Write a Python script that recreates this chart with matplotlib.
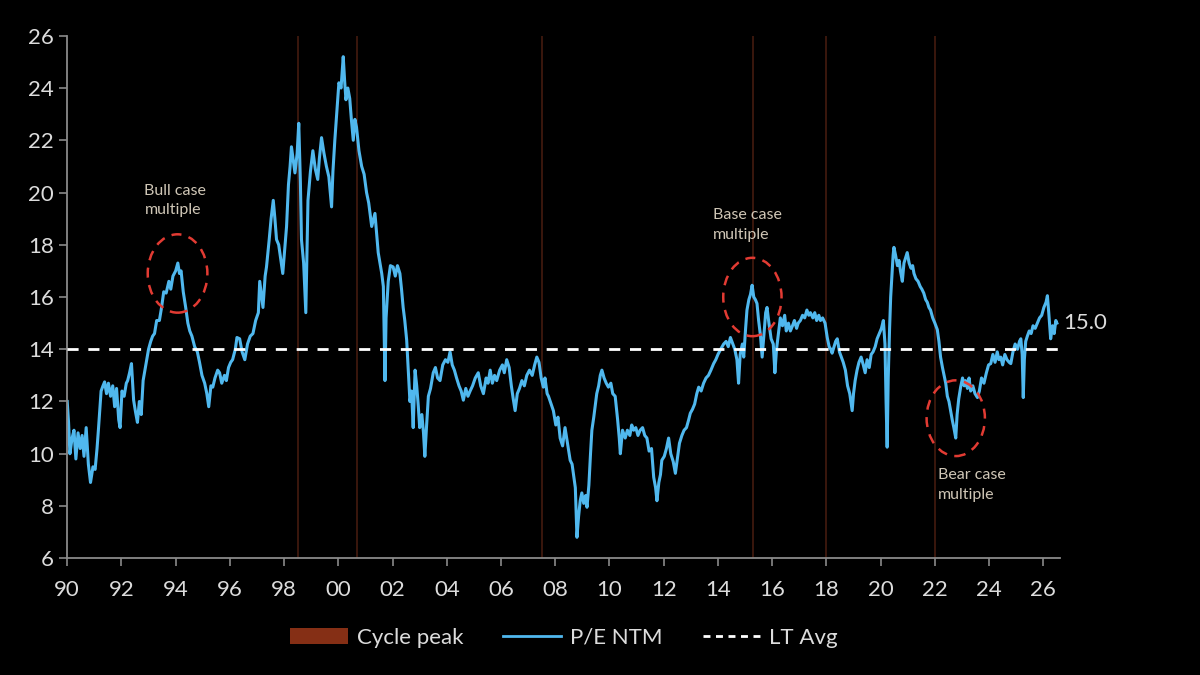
import matplotlib
matplotlib.use("Agg")
import matplotlib.pyplot as plt
from matplotlib.patches import Ellipse, Patch
from matplotlib.lines import Line2D

plt.rcParams['font.family'] = ['Lato', 'DejaVu Sans']

# P/E NTM (decimal year, multiple)
years = [
    1990.00, 1990.05, 1990.10, 1990.18, 1990.25, 1990.32, 1990.40, 1990.48, 1990.55, 1990.62,
    1990.70, 1990.78, 1990.86, 1990.95, 1991.03, 1991.10, 1991.15, 1991.25, 1991.32, 1991.38,
    1991.45, 1991.52, 1991.60, 1991.68, 1991.75, 1991.82, 1991.90, 1991.95, 1992.02, 1992.10,
    1992.18, 1992.23, 1992.30, 1992.37, 1992.45, 1992.52, 1992.59, 1992.66, 1992.73, 1992.80,
    1992.90, 1993.00, 1993.08, 1993.15, 1993.22, 1993.30, 1993.40, 1993.48, 1993.56, 1993.65,
    1993.75, 1993.82, 1993.90, 1994.00, 1994.08, 1994.14, 1994.20, 1994.28, 1994.37, 1994.45,
    1994.52, 1994.60, 1994.70, 1994.80, 1994.88, 1994.97, 1995.07, 1995.15, 1995.22, 1995.30,
    1995.37, 1995.45, 1995.55, 1995.62, 1995.70, 1995.80, 1995.87, 1995.95, 1996.03, 1996.10,
    1996.20, 1996.26, 1996.36, 1996.45, 1996.55, 1996.65, 1996.75, 1996.85, 1996.95, 1997.05,
    1997.10, 1997.17, 1997.22, 1997.30, 1997.35, 1997.45, 1997.52, 1997.60, 1997.66, 1997.72,
    1997.80, 1997.88, 1997.95, 1998.02, 1998.09, 1998.16, 1998.22, 1998.27, 1998.34, 1998.40,
    1998.48, 1998.54, 1998.60, 1998.64, 1998.72, 1998.80, 1998.84, 1998.88, 1998.97, 1999.06,
    1999.15, 1999.24, 1999.30, 1999.38, 1999.47, 1999.56, 1999.65, 1999.75, 1999.80, 1999.87,
    1999.95, 2000.02, 2000.10, 2000.18, 2000.23, 2000.28, 2000.35, 2000.42, 2000.48, 2000.55,
    2000.61, 2000.67, 2000.76, 2000.86, 2000.95, 2001.04, 2001.12, 2001.23, 2001.30, 2001.35,
    2001.42, 2001.47, 2001.55, 2001.60, 2001.66, 2001.72, 2001.76, 2001.84, 2001.92, 2002.02,
    2002.10, 2002.18, 2002.27, 2002.33, 2002.39, 2002.45, 2002.52, 2002.58, 2002.64, 2002.70,
    2002.76, 2002.83, 2002.89, 2002.95, 2003.00, 2003.08, 2003.14, 2003.19, 2003.25, 2003.32,
    2003.40, 2003.50, 2003.58, 2003.66, 2003.75, 2003.85, 2003.95, 2004.04, 2004.12, 2004.20,
    2004.28, 2004.36, 2004.45, 2004.53, 2004.61, 2004.70, 2004.78, 2004.86, 2004.95, 2005.05,
    2005.16, 2005.25, 2005.35, 2005.45, 2005.52, 2005.60, 2005.68, 2005.76, 2005.84, 2005.95,
    2006.05, 2006.12, 2006.21, 2006.30, 2006.38, 2006.45, 2006.52, 2006.60, 2006.68, 2006.77,
    2006.86, 2006.95, 2007.05, 2007.15, 2007.24, 2007.32, 2007.40, 2007.48, 2007.56, 2007.62,
    2007.70, 2007.75, 2007.85, 2007.93, 2008.02, 2008.10, 2008.18, 2008.27, 2008.36, 2008.45,
    2008.55, 2008.62, 2008.70, 2008.74, 2008.80, 2008.86, 2008.92, 2008.98, 2009.05, 2009.12,
    2009.17, 2009.24, 2009.30, 2009.35, 2009.42, 2009.53, 2009.60, 2009.66, 2009.72, 2009.80,
    2009.88, 2009.96, 2010.05, 2010.12, 2010.21, 2010.30, 2010.36, 2010.40, 2010.48, 2010.58,
    2010.66, 2010.75, 2010.82, 2010.89, 2010.97, 2011.05, 2011.13, 2011.22, 2011.30, 2011.38,
    2011.46, 2011.55, 2011.63, 2011.70, 2011.75, 2011.82, 2011.88, 2011.93, 2012.02, 2012.10,
    2012.18, 2012.26, 2012.35, 2012.43, 2012.50, 2012.58, 2012.67, 2012.75, 2012.84, 2012.92,
    2012.98, 2013.06, 2013.14, 2013.22, 2013.29, 2013.38, 2013.47, 2013.56, 2013.65, 2013.74,
    2013.84, 2013.92, 2014.00, 2014.10, 2014.21, 2014.30, 2014.38, 2014.46, 2014.55, 2014.62,
    2014.70, 2014.76, 2014.82, 2014.90, 2014.95, 2015.02, 2015.07, 2015.14, 2015.20, 2015.26,
    2015.32, 2015.38, 2015.44, 2015.50, 2015.57, 2015.63, 2015.70, 2015.76, 2015.81, 2015.88,
    2015.96, 2016.04, 2016.10, 2016.16, 2016.23, 2016.30, 2016.38, 2016.46, 2016.52, 2016.60,
    2016.67, 2016.75, 2016.82, 2016.90, 2016.96, 2017.04, 2017.12, 2017.20, 2017.28, 2017.35,
    2017.41, 2017.50, 2017.57, 2017.64, 2017.72, 2017.78, 2017.86, 2017.95, 2018.03, 2018.10,
    2018.16, 2018.21, 2018.28, 2018.34, 2018.40, 2018.48, 2018.55, 2018.62, 2018.70, 2018.78,
    2018.86, 2018.95, 2019.00, 2019.06, 2019.13, 2019.20, 2019.28, 2019.36, 2019.43, 2019.50,
    2019.58, 2019.65, 2019.72, 2019.80, 2019.87, 2019.95, 2020.03, 2020.10, 2020.16, 2020.20,
    2020.24, 2020.28, 2020.33, 2020.37, 2020.42, 2020.46, 2020.49, 2020.55, 2020.62, 2020.68,
    2020.73, 2020.80, 2020.86, 2020.92, 2020.98, 2021.05, 2021.12, 2021.18, 2021.23, 2021.30,
    2021.38, 2021.46, 2021.52, 2021.59, 2021.66, 2021.72, 2021.78, 2021.84, 2021.92, 2022.00,
    2022.09, 2022.15, 2022.21, 2022.28, 2022.34, 2022.40, 2022.46, 2022.52, 2022.58, 2022.64,
    2022.70, 2022.77, 2022.82, 2022.88, 2022.95, 2023.02, 2023.08, 2023.13, 2023.20, 2023.26,
    2023.32, 2023.40, 2023.48, 2023.57, 2023.64, 2023.72, 2023.81, 2023.90, 2023.98, 2024.06,
    2024.14, 2024.22, 2024.30, 2024.36, 2024.43, 2024.50, 2024.58, 2024.66, 2024.74, 2024.80,
    2024.88, 2024.96, 2025.05, 2025.12, 2025.17, 2025.22, 2025.26, 2025.30, 2025.35, 2025.41,
    2025.48, 2025.55, 2025.62, 2025.70, 2025.78, 2025.86, 2025.94, 2026.02, 2026.10, 2026.15,
    2026.20, 2026.27, 2026.34, 2026.40, 2026.46, 2026.50,
]
pe_ntm = [
    12.0, 11.2, 10.0, 10.6, 10.9, 9.8, 10.8, 10.2, 10.7, 9.9,
    11.0, 9.6, 8.9, 9.5, 9.4, 10.2, 10.9, 12.4, 12.6, 12.75,
    12.3, 12.7, 12.2, 12.6, 11.8, 12.5, 11.3, 11.0, 12.4, 12.2,
    12.7, 12.8, 13.1, 13.45, 12.05, 11.6, 11.2, 12.0, 11.5, 12.8,
    13.4, 14.0, 14.3, 14.5, 14.6, 15.1, 15.1, 15.6, 16.2, 16.15,
    16.6, 16.3, 16.8, 17.0, 17.3, 16.9, 17.0, 16.2, 15.6, 15.0,
    14.7, 14.5, 14.1, 13.9, 13.5, 13.0, 12.7, 12.3, 11.8, 12.6,
    12.55, 12.9, 13.2, 13.1, 12.7, 13.0, 12.8, 13.3, 13.5, 13.6,
    14.0, 14.45, 14.4, 13.9, 13.6, 14.2, 14.5, 14.6, 15.1, 15.4,
    16.6, 16.0, 15.6, 16.8, 17.15, 18.2, 19.0, 19.7, 19.0, 18.2,
    18.0, 17.4, 16.9, 17.8, 18.7, 20.3, 21.0, 21.75, 21.2, 20.75,
    21.5, 22.65, 20.4, 18.2, 17.3, 15.4, 17.5, 19.7, 20.8, 21.6,
    20.9, 20.5, 21.3, 22.1, 21.5, 21.0, 20.6, 19.45, 20.8, 22.0,
    23.2, 24.2, 24.0, 25.2, 24.3, 23.55, 24.0, 23.6, 22.8, 22.0,
    22.8, 22.5, 21.6, 21.0, 20.7, 20.0, 19.6, 18.7, 19.0, 19.2,
    18.3, 17.7, 17.2, 16.9, 16.4, 12.8, 15.2, 16.6, 17.2, 17.15,
    16.8, 17.2, 16.9, 16.3, 15.6, 15.1, 14.35, 13.2, 12.0, 12.4,
    11.0, 13.2, 12.6, 11.8, 11.0, 11.5, 10.8, 9.9, 11.0, 12.2,
    12.5, 13.1, 13.3, 12.9, 12.8, 13.4, 13.6, 13.5, 13.9, 13.4,
    13.2, 12.9, 12.6, 12.4, 12.05, 12.5, 12.2, 12.4, 12.6, 12.9,
    13.1, 12.6, 12.3, 12.9, 12.7, 13.2, 12.7, 13.0, 12.8, 13.2,
    13.4, 13.1, 13.6, 13.3, 12.6, 12.1, 11.65, 12.3, 12.5, 12.8,
    12.6, 13.0, 13.2, 13.0, 13.4, 13.7, 13.5, 12.9, 12.55, 12.9,
    12.3, 12.2, 11.9, 11.65, 11.1, 11.4, 10.6, 10.3, 11.0, 10.4,
    9.75, 9.6, 9.0, 8.7, 6.8, 7.6, 8.2, 8.5, 8.1, 8.4,
    7.95, 8.8, 10.0, 10.9, 11.4, 12.3, 12.6, 13.0, 13.2, 12.9,
    12.7, 12.55, 12.7, 12.3, 12.2, 11.3, 10.6, 10.0, 10.9, 10.6,
    10.9, 10.7, 11.1, 10.9, 11.0, 10.7, 10.9, 11.0, 10.7, 10.6,
    10.1, 10.2, 9.1, 8.7, 8.2, 8.9, 9.2, 9.75, 9.9, 10.2,
    10.6, 10.0, 9.7, 9.25, 9.8, 10.4, 10.7, 10.9, 11.0, 11.3,
    11.55, 11.7, 11.9, 12.3, 12.55, 12.4, 12.7, 12.9, 13.0, 13.2,
    13.45, 13.6, 13.8, 14.0, 14.2, 14.3, 14.1, 14.45, 14.2, 14.0,
    13.6, 12.7, 13.8, 14.2, 13.7, 14.8, 15.5, 15.9, 16.1, 16.45,
    16.0, 15.9, 15.75, 15.1, 14.5, 13.7, 14.6, 15.4, 15.6, 15.0,
    14.4, 14.2, 13.1, 14.0, 14.6, 15.2, 14.9, 15.3, 14.7, 15.0,
    14.7, 14.9, 15.1, 14.8, 15.0, 15.1, 15.3, 15.2, 15.5, 15.3,
    15.4, 15.2, 15.4, 15.1, 15.3, 15.1, 15.2, 15.0, 14.45, 14.1,
    14.0, 13.85, 14.1, 14.3, 14.4, 13.9, 13.7, 13.5, 13.2, 12.6,
    12.3, 11.65, 12.3, 12.8, 13.2, 13.5, 13.7, 13.4, 13.1, 13.6,
    13.3, 13.8, 13.9, 14.1, 14.4, 14.6, 14.8, 15.1, 14.2, 12.0,
    10.25, 12.9, 14.8, 16.0, 16.9, 17.6, 17.9, 17.6, 17.2, 17.4,
    17.0, 16.6, 17.3, 17.5, 17.7, 17.3, 17.1, 17.2, 16.9, 16.7,
    16.6, 16.4, 16.3, 16.15, 15.9, 15.8, 15.6, 15.5, 15.2, 15.0,
    14.75, 14.3, 13.7, 13.3, 13.0, 12.7, 12.2, 12.0, 11.65, 11.3,
    11.0, 10.6, 11.5, 12.1, 12.55, 12.9, 12.6, 12.8, 12.5, 12.9,
    12.4, 12.6, 12.3, 12.15, 12.4, 12.9, 12.7, 13.1, 13.4, 13.45,
    13.8, 13.5, 13.9, 13.6, 13.7, 13.4, 13.8, 13.6, 13.5, 13.45,
    13.9, 14.2, 14.0, 14.3, 14.4, 13.8, 12.15, 13.6, 14.3, 14.5,
    14.7, 14.6, 14.9, 14.8, 15.0, 15.2, 15.3, 15.6, 15.8, 16.05,
    15.4, 14.4, 14.9, 14.6, 15.1, 15.0,
]

lt_avg = 14.0
last_label = "15.0"
cycle_peaks = [1998.5, 2000.7, 2007.5, 2015.3, 2018.0, 2022.0]
year_ticks = list(range(1990, 2027, 2))
y_ticks = list(range(6, 27, 2))

blue = '#50b8ee'
peak_col = '#4a1d10'
text_col = '#dcdcdc'
note_col = '#cfc6b6'
circle_col = '#e23b33'

fig = plt.figure(figsize=(12, 6.75), dpi=100, facecolor='black')
ax = fig.add_axes([0.056, 0.173, 0.827, 0.774], facecolor='black')

for x in cycle_peaks:
    ax.axvline(x, color=peak_col, lw=1.1, zorder=1)

ax.axhline(lt_avg, color='white', lw=2, ls=(0, (4, 3.5)), zorder=3)
ax.plot(years, pe_ntm, color=blue, lw=2.2, zorder=2)

ax.set_xlim(1990, 2026.6)
ax.set_ylim(6, 26)
ax.set_xticks(year_ticks)
ax.set_xticklabels(['%02d' % (y % 100) for y in year_ticks])
ax.set_yticks(y_ticks)

for s in ['top', 'right']:
    ax.spines[s].set_visible(False)
for s in ['left', 'bottom']:
    ax.spines[s].set_color('#8a8a8a')
    ax.spines[s].set_linewidth(1.3)
ax.tick_params(colors='#8a8a8a', labelcolor=text_col, labelsize=16,
               length=6, width=1.2)
ax.tick_params(axis='x', pad=10)

# end value label
ax.text(years[-1] + 0.25, 15.0, last_label, color=text_col, fontsize=16,
        va='center', ha='left', clip_on=False)

# scenario circles and notes
circles = [(1994.07, 16.9, 2.2, 3.0), (2015.27, 16.0, 2.15, 3.0),
           (2022.77, 11.36, 2.15, 2.9)]
for cx, cy, w, h in circles:
    ax.add_patch(Ellipse((cx, cy), w, h, fill=False, ec=circle_col,
                         lw=1.8, ls=(0, (4, 3)), zorder=4))

ax.text(1992.85, 19.7, "Bull case\nmultiple", color=note_col, fontsize=11.5,
        va='center', ha='left', linespacing=1.5)
ax.text(2013.8, 18.75, "Base case\nmultiple", color=note_col, fontsize=11.5,
        va='center', ha='left', linespacing=1.5)
ax.text(2022.1, 8.8, "Bear case\nmultiple", color=note_col, fontsize=11.5,
        va='center', ha='left', linespacing=1.5)

handles = [Patch(facecolor='#852f15', edgecolor='none'),
           Line2D([], [], color=blue, lw=2),
           Line2D([], [], color='white', lw=2, ls=(0, (2.5, 2)))]
leg = fig.legend(handles, ['Cycle peak', 'P/E NTM', 'LT Avg'], ncol=3,
                 loc='center', bbox_to_anchor=(0.47, 0.055), frameon=False,
                 fontsize=16, handlelength=2.6, columnspacing=1.8,
                 handletextpad=0.4)
for t in leg.get_texts():
    t.set_color(text_col)

fig.savefig('out.png', dpi=100, facecolor='black')
